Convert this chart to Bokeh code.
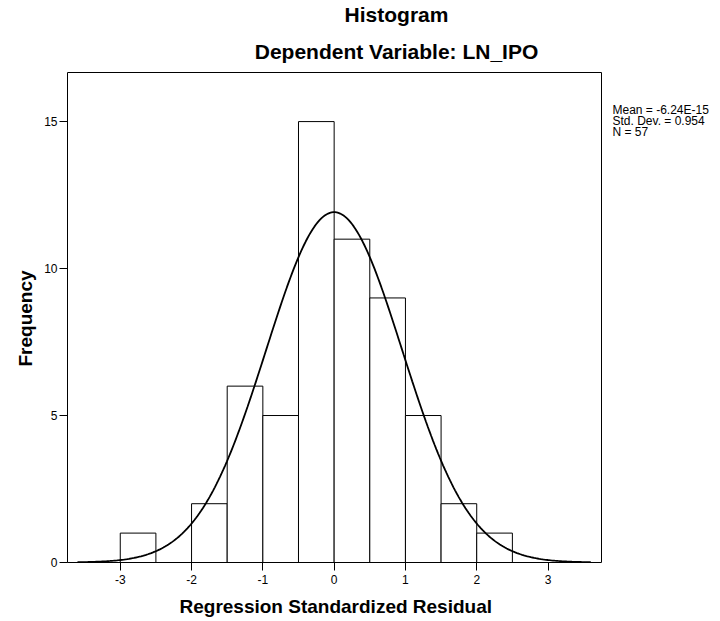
import numpy as np
from bokeh.plotting import figure
from bokeh.models import FixedTicker, ColumnDataSource, Title, Label
from bokeh.embed import file_html
from bokeh.resources import INLINE

# ---- data ----
bin_left = [-3.0, -2.5, -2.0, -1.5, -1.0, -0.5, 0.0, 0.5, 1.0, 1.5, 2.0]
bin_right = [-2.5, -2.0, -1.5, -1.0, -0.5, 0.0, 0.5, 1.0, 1.5, 2.0, 2.5]
counts = [1, 0, 2, 6, 5, 15, 11, 9, 5, 2, 1]
x_ticks = [-3, -2, -1, 0, 1, 2, 3]
y_ticks = [0, 5, 10, 15]
stat_lines = ["Mean = -6.24E-15", "Std. Dev. = 0.954", "N = 57"]
mean_val = -6.24e-15
std_val = 0.954
n_val = 57
bin_width = 0.5
curve_start, curve_end = -3.6, 3.6
title_text = "Histogram"
subtitle_text = "Dependent Variable: LN_IPO"
x_label = "Regression Standardized Residual"
y_label = "Frequency"

FONT = "Liberation Sans"

# ---- layout (pixels) ----
W, H = 720, 621
FL = 67                     # left of the plot box
BOX_W, BOX_H = 534, 490     # plot box size
BOX_TOP = 72                # top of the plot box
FW, FH = W - FL, BOX_TOP + BOX_H   # drawing area extends to the right and top edges
XMIN, XMAX = -3.74, 3.75    # axis range of the plot box
YMIN, YMAX = 0.0, 16.67
SX = BOX_W / (XMAX - XMIN)
SY = BOX_H / (YMAX - YMIN)
XEXT = XMIN + FW / SX
YEXT = YMIN + FH / SY

p = figure(width=W, height=H, frame_width=FW, frame_height=FH,
           min_border_left=FL, min_border_top=0, min_border_right=0,
           min_border_bottom=H - FH,
           x_range=(XMIN, XEXT), y_range=(YMIN, YEXT),
           output_backend="svg", toolbar_location=None, title_location=None,
           background_fill_color="white", border_fill_color="white")
p.grid.visible = False
p.outline_line_color = None

def dx(px):
    return XMIN + (px - FL) / SX

def dy(py):
    return YEXT - py / SY

# plot box
p.quad(left=[XMIN], right=[XMAX], bottom=[YMIN], top=[YMAX],
       fill_color=None, line_color="black", line_width=1)

# bars
src = ColumnDataSource(dict(
    left=[l for l, c in zip(bin_left, counts) if c > 0],
    right=[r for r, c in zip(bin_right, counts) if c > 0],
    top=[c for c in counts if c > 0],
))
p.quad(left="left", right="right", top="top", bottom=0, source=src,
       fill_color="white", line_color="black", line_width=1)

# normal curve from the stated mean, std. dev. and N
xs = np.linspace(curve_start, curve_end, 300)
ys = n_val * bin_width / (std_val * np.sqrt(2 * np.pi)) * np.exp(-0.5 * ((xs - mean_val) / std_val) ** 2)
p.line(xs, ys, line_color="black", line_width=1.8)

# axes limited to the plot box
for ax in (p.xaxis[0], p.yaxis[0]):
    ax.axis_line_color = "black"
    ax.major_tick_line_color = "black"
    ax.major_tick_out = 8
    ax.major_tick_in = 0
    ax.minor_tick_line_color = None
    ax.major_label_text_font = FONT
    ax.major_label_text_font_size = "12px"
    ax.major_label_text_color = "black"
p.xaxis.bounds = (XMIN, XMAX)
p.yaxis.bounds = (YMIN, YMAX)
p.xaxis.ticker = FixedTicker(ticks=x_ticks)
p.yaxis.ticker = FixedTicker(ticks=y_ticks)
p.xaxis.major_label_overrides = {t: str(t) for t in x_ticks}
p.yaxis.major_label_overrides = {t: str(t) for t in y_ticks}
p.xaxis.major_label_standoff = 4
p.yaxis.major_label_standoff = 2

# axis titles, positioned along the plot box
p.add_layout(Title(text=x_label, align="left", offset=112, standoff=14,
                   text_font=FONT, text_font_size="19px", text_font_style="bold",
                   text_line_height=1.0, text_color="black"), "below")
p.add_layout(Title(text=y_label, align="left", offset=196, standoff=12,
                   text_font=FONT, text_font_size="19px", text_font_style="bold",
                   text_color="black"), "left")

# chart titles
p.add_layout(Label(x=dx(396), y=dy(14), text=title_text, text_align="center",
                   text_baseline="alphabetic", text_font=FONT, text_font_size="21px",
                   text_font_style="bold", text_color="black"))
p.add_layout(Label(x=dx(396), y=dy(51), text=subtitle_text, text_align="center",
                   text_baseline="alphabetic", text_font=FONT, text_font_size="21px",
                   text_font_style="bold", text_color="black"))

# statistics
for i, line in enumerate(stat_lines):
    p.add_layout(Label(x=dx(612), y=dy(109 + 11 * i), text=line, text_align="left",
                       text_baseline="alphabetic", text_font=FONT,
                       text_font_size="12px", text_color="black"))

open("out.html", "w").write(file_html(p, INLINE))
